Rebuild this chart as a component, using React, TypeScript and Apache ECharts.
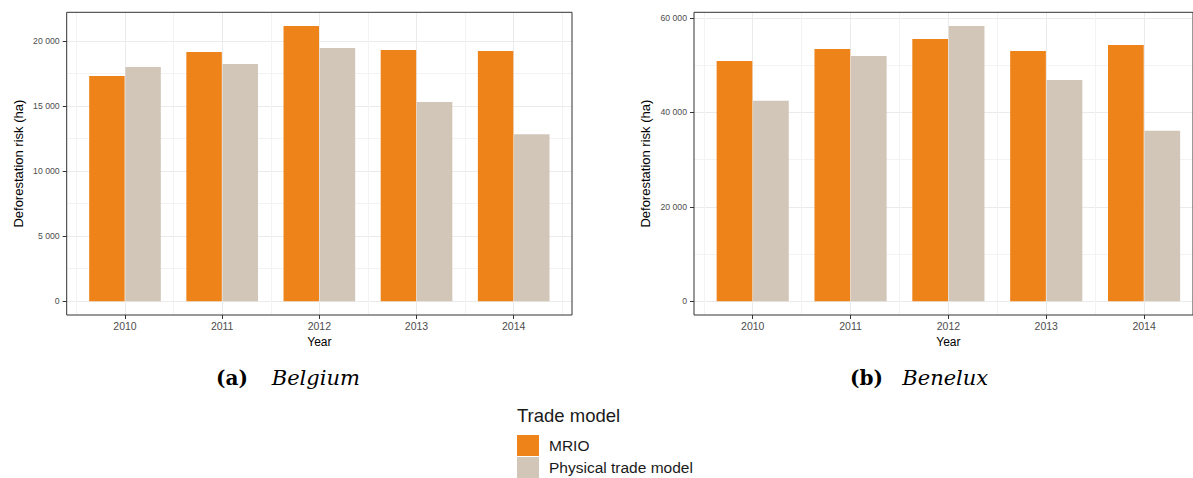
import { useEffect, useRef } from 'react';
import * as echarts from 'echarts';

// ---- data -------------------------------------------------------------
const YEARS = ['2010', '2011', '2012', '2013', '2014'];

const SERIES_NAMES = ['MRIO', 'Physical trade model'];

const BELGIUM_MRIO = [17290, 19130, 21130, 19290, 19210];
const BELGIUM_PHYSICAL = [17980, 18210, 19440, 15290, 12830];

const BENELUX_MRIO = [50900, 53430, 55540, 53010, 54280];
const BENELUX_PHYSICAL = [42450, 51950, 58290, 46890, 36110];

const BELGIUM_Y_TICKS = [0, 5000, 10000, 15000, 20000];
const BENELUX_Y_TICKS = [0, 20000, 40000, 60000];

// ---- styling ----------------------------------------------------------
const W = 1193;
const H = 478;
const SANS = '"Liberation Sans", Arial, Helvetica, sans-serif';
const SERIF = '"DejaVu Serif", serif';
const COLOR_MRIO = '#EE8319';
const COLOR_PHYSICAL = '#D2C6B9';
const GRID_MAJOR = '#EBEBEB';
const GRID_MINOR = '#F3F3F3';
const FRAME = '#333333';
const TICK_TEXT = '#4D4D4D';

type PanelSpec = {
  frameL: number;
  frameR: number;
  frameT: number;
  frameB: number;
  mrio: number[];
  physical: number[];
  ticks: number[];
};

const PANELS: PanelSpec[] = [
  { frameL: 66.7, frameR: 572, frameT: 12.3, frameB: 315, mrio: BELGIUM_MRIO, physical: BELGIUM_PHYSICAL, ticks: BELGIUM_Y_TICKS },
  { frameL: 694, frameR: 1203, frameT: 12.3, frameB: 315, mrio: BENELUX_MRIO, physical: BENELUX_PHYSICAL, ticks: BENELUX_Y_TICKS },
];

const thousands = (v: number) => String(Math.round(v)).replace(/\B(?=(\d{3})+(?!\d))/g, ' ');

function buildOption() {
  const grid: any[] = [];
  const xAxis: any[] = [];
  const yAxis: any[] = [];
  const series: any[] = [];

  PANELS.forEach((p, i) => {
    // value range padded by 5% on both sides, as the frame shows
    const maxV = Math.max(...p.mrio, ...p.physical);
    const pad = 0.05 * maxV;
    const lo = -pad;
    const hi = maxV + pad;
    const plotH = p.frameB - p.frameT;
    const toPx = (v: number) => p.frameB - ((v - lo) / (hi - lo)) * plotH;
    const step = p.ticks[1] - p.ticks[0];
    const tickTop = p.ticks[p.ticks.length - 1];
    const unit = (p.frameR - p.frameL) / (YEARS.length + 0.2);
    const dataL = p.frameL + 0.1 * unit;
    const dataR = p.frameR - 0.1 * unit;

    const g = i * 3;
    const xi = i * 4;
    const yi = i * 3;

    // frame
    grid.push({
      left: p.frameL, top: p.frameT, width: p.frameR - p.frameL, height: plotH,
      show: true, borderColor: FRAME, borderWidth: 1, backgroundColor: 'transparent', z: 5,
    });
    // horizontal gridlines + y labels (0 .. top tick)
    grid.push({
      left: p.frameL, width: p.frameR - p.frameL,
      top: toPx(tickTop), height: toPx(0) - toPx(tickTop),
    });
    // categories + vertical gridlines + bars
    grid.push({ left: dataL, width: dataR - dataL, top: p.frameT, height: plotH });

    xAxis.push({ gridIndex: g, type: 'value', show: false, min: 0, max: 1 });
    xAxis.push({ gridIndex: g + 1, type: 'value', show: false, min: 0, max: 1 });
    xAxis.push({
      gridIndex: g + 2,
      type: 'category',
      data: YEARS,
      position: 'bottom',
      boundaryGap: true,
      axisLine: { show: false, onZero: false },
      axisTick: { show: true, alignWithLabel: true, length: 4, lineStyle: { color: FRAME, width: 1 } },
      axisLabel: { margin: 5, fontSize: 10.5, color: TICK_TEXT, fontFamily: SANS },
      splitLine: { show: false },
      name: 'Year',
      nameLocation: 'middle',
      nameGap: 17.5,
      nameTextStyle: { fontSize: 12, color: '#000000', fontFamily: SANS },
    });
    xAxis.push({
      gridIndex: g + 2,
      type: 'category',
      data: Array.from({ length: YEARS.length * 2 }, (_, k) => `h${k}`),
      position: 'top',
      boundaryGap: true,
      axisLine: { show: false, onZero: false },
      axisTick: { show: false },
      axisLabel: { show: false },
      splitLine: { show: true, interval: 0, lineStyle: { color: [GRID_MINOR, GRID_MAJOR], width: 1 } },
    });

    yAxis.push({ gridIndex: g, type: 'value', show: false, min: 0, max: 1 });
    yAxis.push({
      gridIndex: g + 1,
      type: 'value',
      min: 0,
      max: tickTop,
      interval: step,
      axisLine: { show: false, onZero: false },
      axisTick: { show: true, length: 4, lineStyle: { color: FRAME, width: 1 } },
      axisLabel: { margin: 7, fontSize: 8.7, color: TICK_TEXT, fontFamily: SANS, formatter: (v: number) => thousands(v) },
      splitLine: { show: true, lineStyle: { color: GRID_MAJOR, width: 1 } },
      minorTick: { show: false, splitNumber: 2 },
      minorSplitLine: { show: true, lineStyle: { color: GRID_MINOR, width: 1 } },
    });
    yAxis.push({
      gridIndex: g + 2,
      type: 'value',
      min: lo,
      max: hi,
      axisLine: { show: false, onZero: false },
      axisTick: { show: false },
      axisLabel: { show: false },
      splitLine: { show: false },
      name: 'Deforestation risk (ha)',
      nameLocation: 'middle',
      nameGap: 51.5,
      nameTextStyle: { fontSize: 13, color: '#000000', fontFamily: SANS },
    });

    series.push({
      type: 'bar',
      name: SERIES_NAMES[0],
      xAxisIndex: xi + 2,
      yAxisIndex: yi + 2,
      data: p.mrio,
      barWidth: '36.5%',
      barGap: '2%',
      itemStyle: { color: COLOR_MRIO },
    });
    series.push({
      type: 'bar',
      name: SERIES_NAMES[1],
      xAxisIndex: xi + 2,
      yAxisIndex: yi + 2,
      data: p.physical,
      barWidth: '36.5%',
      barGap: '2%',
      itemStyle: { color: COLOR_PHYSICAL },
    });
  });

  const caption = (x: number, text: string, bold: boolean) => ({
    type: 'text',
    x,
    y: 377.9,
    style: {
      text,
      fill: '#000000',
      fontFamily: SERIF,
      fontSize: bold ? 20 : 21,
      fontWeight: bold ? 'bold' : 'normal',
      fontStyle: bold ? 'normal' : 'italic',
      textAlign: 'left',
      align: 'left',
      textVerticalAlign: 'middle',
      verticalAlign: 'middle',
    },
  });

  return {
    animation: false,
    backgroundColor: '#ffffff',
    title: {
      text: 'Trade model',
      left: 517,
      top: 406,
      padding: 0,
      textStyle: { fontSize: 18.5, fontWeight: 'normal', color: '#1A1A1A', fontFamily: SANS },
    },
    legend: {
      data: SERIES_NAMES,
      orient: 'vertical',
      left: 517,
      top: 435,
      padding: 0,
      itemWidth: 22,
      itemHeight: 21,
      itemGap: 1,
      icon: 'rect',
      selectedMode: false,
      textStyle: { fontSize: 15.5, color: '#1A1A1A', fontFamily: SANS, padding: [0, 0, 0, 5] },
    },
    grid,
    xAxis,
    yAxis,
    series,
    graphic: [
      caption(216, '(a)', true),
      caption(271.7, 'Belgium', false),
      caption(850, '(b)', true),
      caption(902.3, 'Benelux', false),
    ],
  };
}

export default function App() {
  const ref = useRef<HTMLDivElement>(null);
  useEffect(() => {
    if (!ref.current) return;
    const chart = echarts.init(ref.current, null, { renderer: 'svg' });
    chart.setOption(buildOption() as any);
    return () => chart.dispose();
  }, []);
  return (
    <div
      ref={ref}
      style={{ position: 'absolute', left: 0, top: 0, width: W, height: H, background: '#ffffff' }}
    />
  );
}
